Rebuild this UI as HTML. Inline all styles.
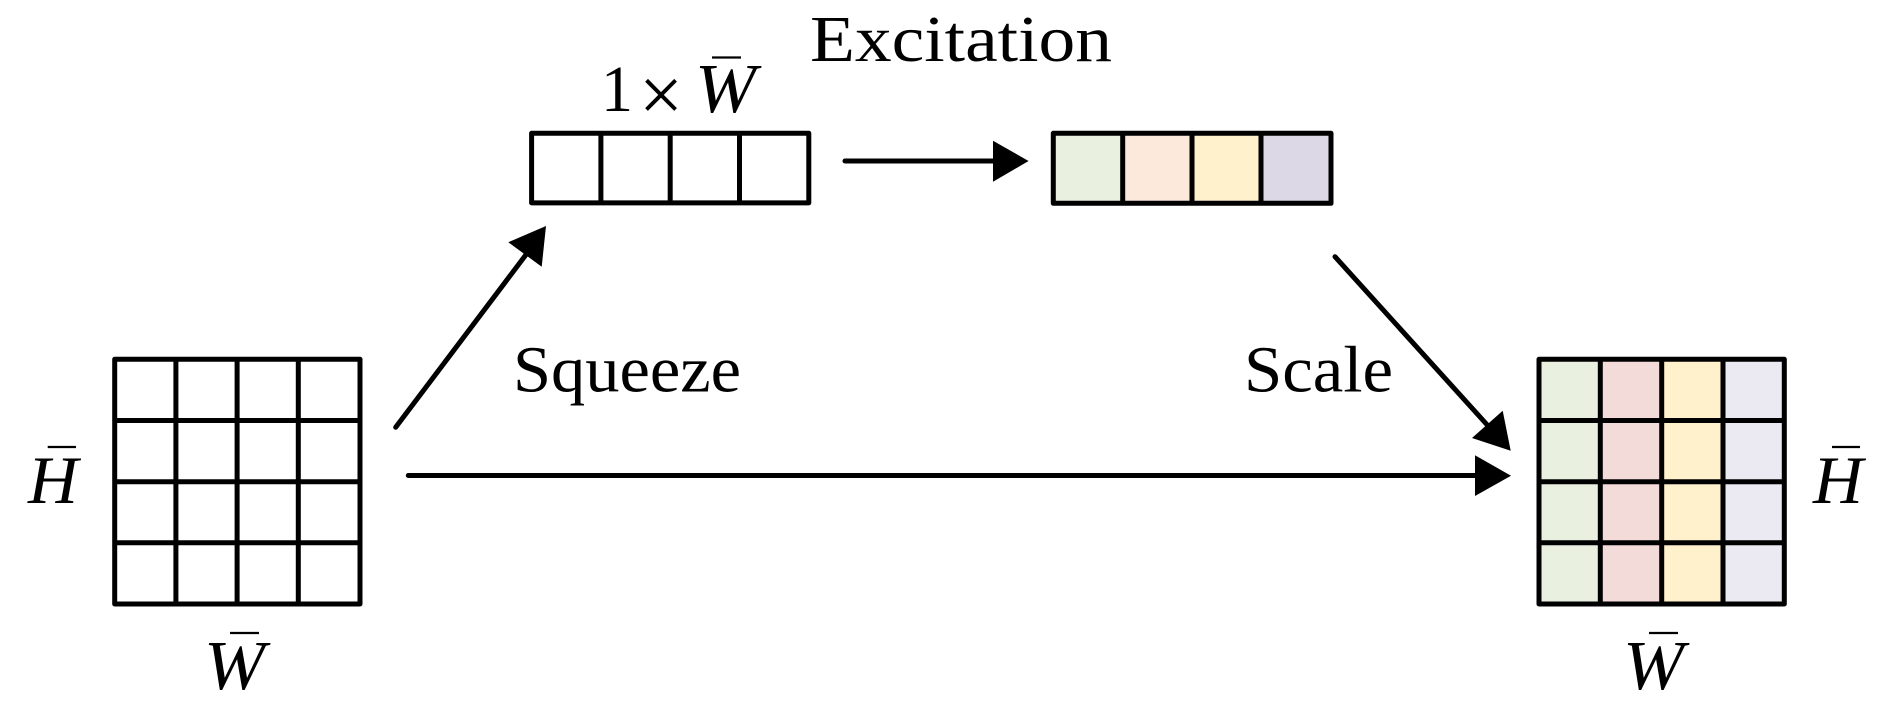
<!DOCTYPE html>
<html><head><meta charset="utf-8">
<style>
html,body{margin:0;padding:0;background:#fff;width:1890px;height:709px;overflow:hidden}
svg{display:block}
text{font-family:"Liberation Serif",serif;fill:#000}
.i{font-style:italic}
.g{fill:none;stroke:#000;stroke-width:5;stroke-linejoin:round;stroke-linecap:butt}
.a{stroke:#000;stroke-width:5;stroke-linecap:round;fill:none}
.b{stroke:#000;stroke-width:2.2;fill:none}
</style></head><body>
<svg width="1890" height="709" viewBox="0 0 1890 709" xmlns="http://www.w3.org/2000/svg">
<rect width="1890" height="709" fill="#fff"/>

<!-- left grid -->
<path class="g" d="M114.7 359.3H360V604H114.7Z M175.9 359.3V604 M237.1 359.3V604 M298.3 359.3V604 M114.7 420.5H360 M114.7 481.7H360 M114.7 542.8H360"/>

<!-- top strip -->
<path class="g" d="M531.6 133.3H808.8V202.9H531.6Z M600.9 133.3V202.9 M670.2 133.3V202.9 M739.5 133.3V202.9"/>

<!-- coloured strip -->
<rect x="1053.3" y="133.3" width="69.4" height="70" fill="#e9f0df"/>
<rect x="1122.7" y="133.3" width="69.3" height="70" fill="#fce9dc"/>
<rect x="1192" y="133.3" width="69" height="70" fill="#fff1cc"/>
<rect x="1261" y="133.3" width="70" height="70" fill="#dcd8e6"/>
<path class="g" d="M1053.3 133.3H1331V203.3H1053.3Z M1122.7 133.3V203.3 M1192 133.3V203.3 M1261 133.3V203.3"/>

<!-- right grid -->
<rect x="1539" y="359.3" width="61.3" height="244.7" fill="#e9f0df"/>
<rect x="1600.3" y="359.3" width="61.4" height="244.7" fill="#f2dbd9"/>
<rect x="1661.7" y="359.3" width="61.3" height="244.7" fill="#fff1cc"/>
<rect x="1723" y="359.3" width="61.3" height="244.7" fill="#ebe9f1"/>
<path class="g" d="M1539 359.3H1784.3V604H1539Z M1600.3 359.3V604 M1661.7 359.3V604 M1723 359.3V604 M1539 420.5H1784.3 M1539 481.7H1784.3 M1539 542.8H1784.3"/>

<!-- arrows -->
<line class="a" x1="845" y1="161" x2="996" y2="161"/>
<polygon points="993,140.7 1028.6,161 993,181.7"/>

<line class="a" x1="395.7" y1="427.3" x2="528" y2="252"/>
<polygon points="546,226 508.3,242.3 541.7,266.7"/>

<line class="a" x1="1335" y1="256.7" x2="1490" y2="428"/>
<polygon points="1510.7,450.7 1502.7,410.7 1472,438"/>

<line class="a" x1="408.3" y1="475.5" x2="1478" y2="475.5"/>
<polygon points="1475,455.3 1511,475.7 1475,496"/>

<!-- labels -->
<text x="810" y="61" font-size="66" textLength="302" lengthAdjust="spacingAndGlyphs">Excitation</text>
<text x="513" y="391.7" font-size="66" textLength="228" lengthAdjust="spacingAndGlyphs">Squeeze</text>
<text x="1244" y="391.7" font-size="66" textLength="149" lengthAdjust="spacingAndGlyphs">Scale</text>

<text x="601" y="111" font-size="66" textLength="32" lengthAdjust="spacingAndGlyphs">1</text>
<text x="661" y="121" font-size="78" text-anchor="middle">×</text>
<text class="i" x="695" y="112" font-size="70" textLength="61" lengthAdjust="spacingAndGlyphs">W</text>
<line class="b" x1="712" y1="57.5" x2="741" y2="57.5"/>

<text class="i" x="204" y="689" font-size="70" textLength="61" lengthAdjust="spacingAndGlyphs">W</text>
<line class="b" x1="230" y1="633" x2="259" y2="633"/>

<text class="i" x="28" y="503" font-size="68" textLength="50" lengthAdjust="spacingAndGlyphs">H</text>
<line class="b" x1="47.7" y1="447" x2="76" y2="447"/>

<text class="i" x="1623" y="689" font-size="70" textLength="61" lengthAdjust="spacingAndGlyphs">W</text>
<line class="b" x1="1649" y1="633" x2="1678" y2="633"/>

<text class="i" x="1813" y="503" font-size="68" textLength="50" lengthAdjust="spacingAndGlyphs">H</text>
<line class="b" x1="1832" y1="447" x2="1860" y2="447"/>
</svg>
</body></html>
